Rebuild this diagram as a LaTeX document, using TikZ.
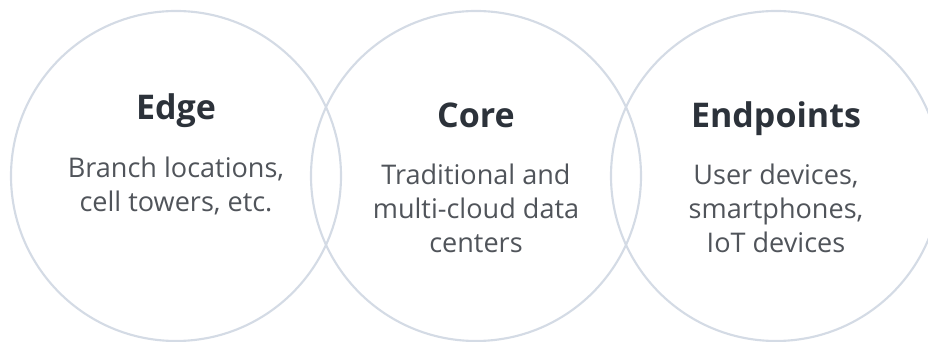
\documentclass[tikz,border=0pt]{standalone}
\usepackage{fontspec}
\setmainfont{Open Sans}
\usetikzlibrary{positioning}
\definecolor{haze}{RGB}{212,219,229}
\definecolor{slate}{RGB}{44,50,58}
\definecolor{graphite}{RGB}{80,84,90}
\tikzset{
  ring/.style={circle,draw=haze,line width=1.6pt,minimum size=247.5pt,inner sep=0pt},
  title/.style={font=\fontsize{25.5}{30}\selectfont\bfseries,text=slate,anchor=base,inner sep=0pt},
  blurb/.style={font=\fontsize{20.3}{25.5}\selectfont,text=graphite,align=center,anchor=base,inner sep=0pt},
}
\begin{document}
\begin{tikzpicture}[x=0.75pt,y=0.75pt]
  \useasboundingbox (0,0) rectangle (928,342);
  \clip (0,0) rectangle (928,342);
  % three overlapping zones
  \node[ring] (edge) at (176,166) {};
  \node[ring] (core) at (476,166) {};
  \node[ring] (ends) at (776,166) {};
  % headings
  \node[title] (edge title) at (176,222) {Edge};
  \node[title] (core title) at (476,214) {Core};
  \node[title] (ends title) at (776,214) {Endpoints};
  % descriptions (anchored at the last line)
  \node[blurb] (edge text) at (176,130) {Branch locations,\\cell towers, etc.};
  \node[blurb] (core text) at (476,89) {Traditional and\\multi-cloud data\\centers};
  \node[blurb] (ends text) at (776,89) {User devices,\\smartphones,\\IoT devices};
\end{tikzpicture}
\end{document}
